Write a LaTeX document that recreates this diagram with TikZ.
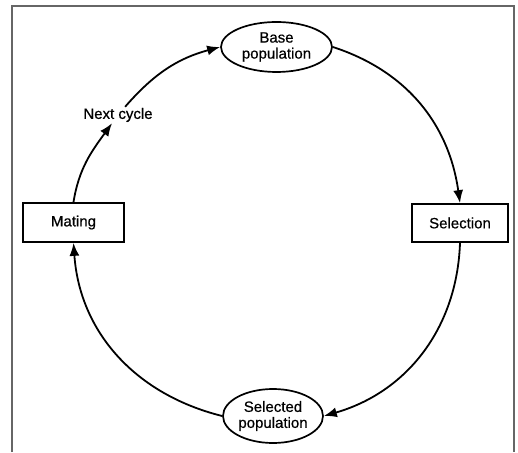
\documentclass[tikz,border=0pt]{standalone}
\usepackage{fontspec}
\setmainfont{Liberation Sans}
\newfontfamily\lblfont{Liberation Sans}[FakeBold=0.6]
\usetikzlibrary{shapes.geometric,arrows.meta}
\begin{document}
\begin{tikzpicture}[x=1pt,y=1pt,
  lbl/.style={font=\lblfont\fontsize{15}{16}\selectfont, align=center, text=black},
  oval/.style={lbl, ellipse, draw, line width=1.7pt, inner sep=0pt},
  rbox/.style={lbl, rectangle, draw, line width=1.7pt, inner sep=0pt},
  conn/.style={line width=1.8pt, -{Latex[length=13pt,width=10pt]}}]
\useasboundingbox (0,0) rectangle (518,452);
\draw[black!60, line width=1.8pt] (12,0) -- (12,446) -- (514,446) -- (514,0);
\node[oval, minimum width=111pt, minimum height=50pt] (base) at (276.5,405) {Base\\population};
\node[rbox, minimum width=96pt, minimum height=38pt] (sel) at (460,229) {Selection};
\node[oval, minimum width=100pt, minimum height=54pt] (selpop) at (273,36) {Selected\\population};
\node[rbox, minimum width=101pt, minimum height=39pt] (mat) at (73.5,229.5) {Mating};
\node[lbl, inner sep=1pt] (next) at (118,337) {Next cycle};
\draw[conn] (base.east) to[out=-18,in=98] (sel.north);
\draw[conn] (sel.south) to[out=-92,in=16] (selpop.east);
\draw[conn] (selpop.west) to[out=166,in=-86] (mat.south);
\draw[conn] (mat.north) to[out=81,in=234] (next);
\draw[conn] (next) to[out=49,in=195] (base.west);
\end{tikzpicture}
\end{document}
